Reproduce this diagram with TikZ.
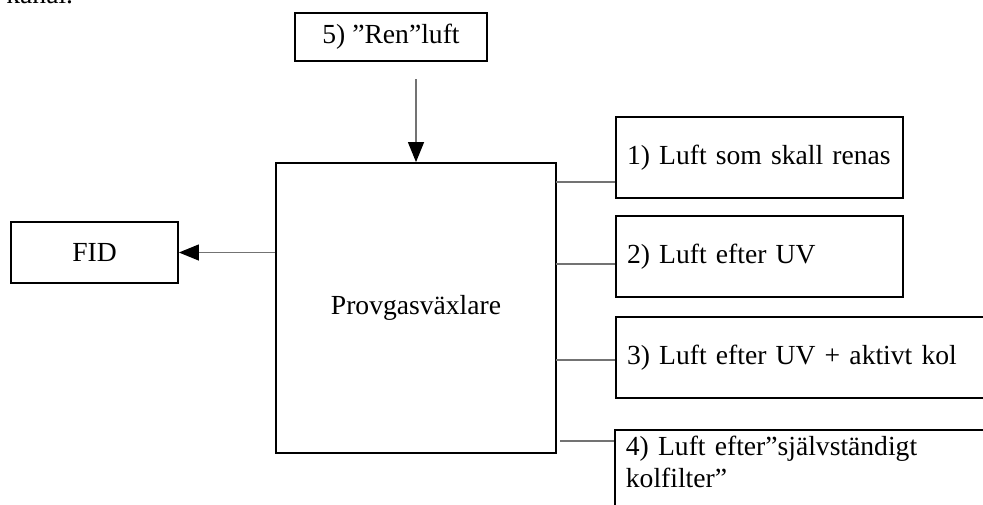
\documentclass[tikz,border=0pt]{standalone}
\usepackage{fontspec}
\setmainfont{Liberation Serif}
\usetikzlibrary{arrows.meta}

\tikzset{
  box/.style={draw,line width=0.9pt,inner sep=0pt,font=\fontsize{13.8}{16}\selectfont},
  leftbox/.style={box,align=left,inner xsep=5.5pt},
  link/.style={draw=black!55,line width=0.6pt},
  feed/.style={link,-{Triangle[length=10pt,width=8pt,black]}},
}

\begin{document}
\begin{tikzpicture}[x=0.5pt,y=-0.5pt]
  \useasboundingbox (0,0) rectangle (983,504);

  % Rest of the text above
  \node[anchor=base west,inner sep=0pt,font=\fontsize{13.8}{16}\selectfont] (kanal) at (6,3) {kanal.};

  % Gas switch
  \node[box,minimum width=140pt,minimum height=145pt] (switch) at (416,308) {Provgasväxlare};

  % Detector
  \node[box,minimum width=83.5pt,minimum height=30.5pt] (fid) at (94.5,252.5) {FID};

  % Clean air
  \node[box,minimum width=96pt,minimum height=24pt] (ren) at (391,37) {5) ”Ren”luft};
  \coordinate (inlet) at (416,79);

  % Sample lines
  \node[leftbox,text width=132.5pt,minimum height=40.5pt] (b1) at (759.5,157.5) {1) Luft som skall renas};
  \node[leftbox,text width=132.5pt,minimum height=40.5pt] (b2) at (759.5,256.5) {2) Luft efter UV};
  \node[leftbox,text width=181pt,minimum height=40.5pt] (b3) at (808,357.5) {3) Luft efter UV + aktivt kol};
  \node[leftbox,text width=181pt,anchor=north west,inner ysep=3pt,text depth=30pt] (b4) at (614,429) {4) Luft efter”självständigt\\kolfilter”};

  % Taps on the switch
  \coordinate (tap1) at (556,182);
  \coordinate (tap2) at (556,264);
  \coordinate (tap3) at (556,360);
  \coordinate (tap4) at (560,441);

  % Connections
  \draw[link] (tap1) -- (tap1 -| b1.west);
  \draw[link] (tap2) -- (tap2 -| b2.west);
  \draw[link] (tap3) -- (tap3 -| b3.west);
  \draw[link] (tap4) -- (tap4 -| b4.west);
  \draw[feed] (inlet) -- (inlet |- switch.north);
  \draw[feed] (switch.west |- fid.east) -- (fid.east);
\end{tikzpicture}
\end{document}
